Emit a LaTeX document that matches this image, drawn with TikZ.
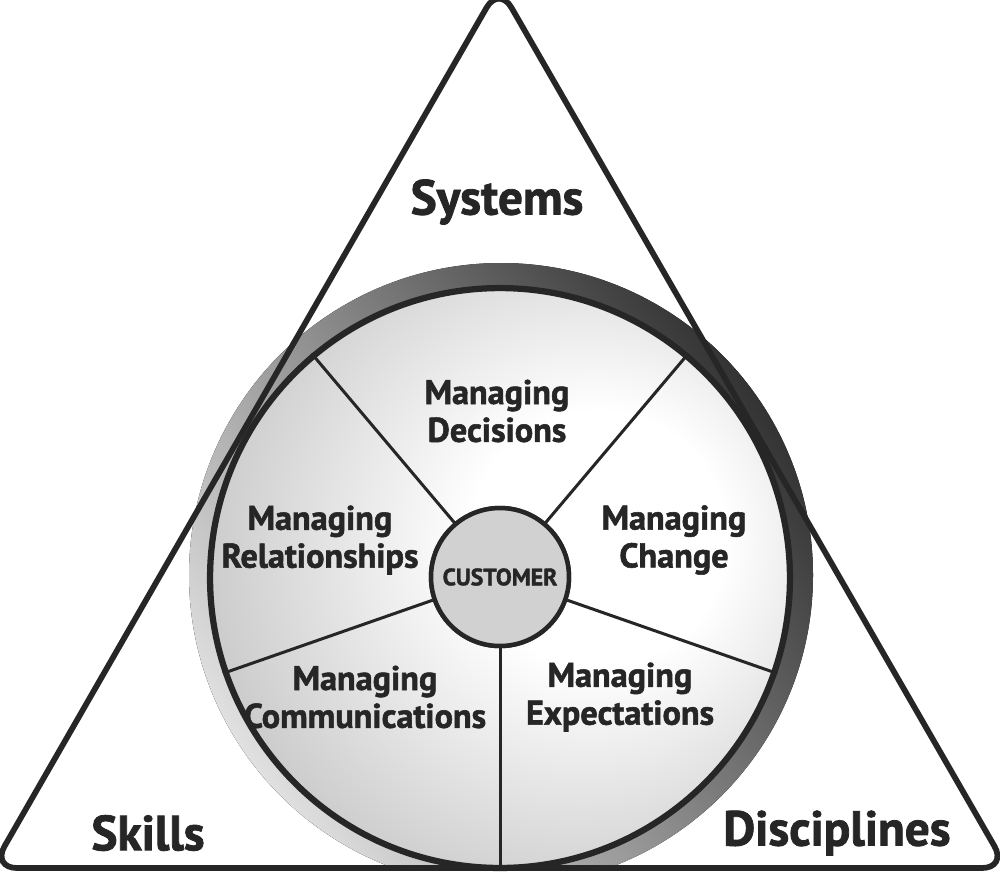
\documentclass[tikz,border=0pt]{standalone}
\usepackage{fontspec}
\setsansfont[BoldFeatures={FakeBold=1.6}]{PT Sans}
\renewcommand{\familydefault}{\sfdefault}
\usetikzlibrary{positioning}
\colorlet{ink}{black!85}
\colorlet{rimgray}{black!36}
\pgfdeclareradialshading{wheelglow}{\pgfpoint{10bp}{4bp}}{color(0bp)=(white); color(11bp)=(white); color(47bp)=(rimgray); color(72bp)=(rimgray)}
\tikzstyle{frame}=[draw=ink, line width=1.15mm, rounded corners=5mm]
\tikzstyle{wheel}=[circle, draw=ink, line width=1.25mm, shading=wheelglow, minimum size=11.6cm, inner sep=0pt]
\tikzstyle{hub}=[circle, draw=ink, line width=0.9mm, fill=black!18, minimum size=2.76cm, inner sep=0pt, text=ink, font=\fontsize{13.5}{15}\selectfont\bfseries]
\tikzstyle{spoke}=[draw=ink, line width=0.6mm]
\tikzstyle{corner}=[text=ink, font=\fontsize{28}{32}\selectfont\bfseries]
\tikzstyle{sector}=[text=ink, align=center, font=\fontsize{19.5}{21.5}\selectfont\bfseries]

\begin{document}
\begin{tikzpicture}[x=0.02cm, y=-0.02cm]
    \useasboundingbox (0,0) rectangle (1000,877);
    % shadow behind the wheel
    \begin{scope}
        \clip (0,0) rectangle (1000,868);
        \fill[top color=black!80, bottom color=black!12, shading angle=-55] (501,575) circle (312);
    \end{scope}
    \node[wheel] (wheel) at (500,578) {};
    \node[hub] (cust) at (500,577) {};
    \draw[spoke] (cust.130) -- (wheel.130);
    \draw[spoke] (cust.50) -- (wheel.50);
    \draw[spoke] (cust.199) -- (wheel.199);
    \draw[spoke] (cust.341) -- (wheel.341);
    \draw[spoke] (cust.270) -- (wheel.270);
    \node[hub] (hub) at (500,577) {CUSTOMER};
    % triangle
    \coordinate (apex) at (499,-14);
    \coordinate (left) at (-8,868);
    \coordinate (right) at (1007,868);
    \coordinate (base) at (500,868);
    \draw[frame] (base) -- (right) -- (apex) -- (left) -- cycle;
    \node[corner] (systems) at (497,202) {Systems};
    \node[corner] (skills) at (148,833) {Skills};
    \node[corner] (disciplines) at (837,833) {Disciplines};
    \node[sector] (decisions) at (497,411) {Managing\\Decisions};
    \node[sector] (relations) at (320,540) {Managing\\Relationships};
    \node[sector] (change) at (674,540) {Managing\\Change};
    \node[sector] (comms) at (365,697) {Managing\\Communications};
    \node[sector] (expect) at (620,697) {Managing\\Expectations};
\end{tikzpicture}
\end{document}
